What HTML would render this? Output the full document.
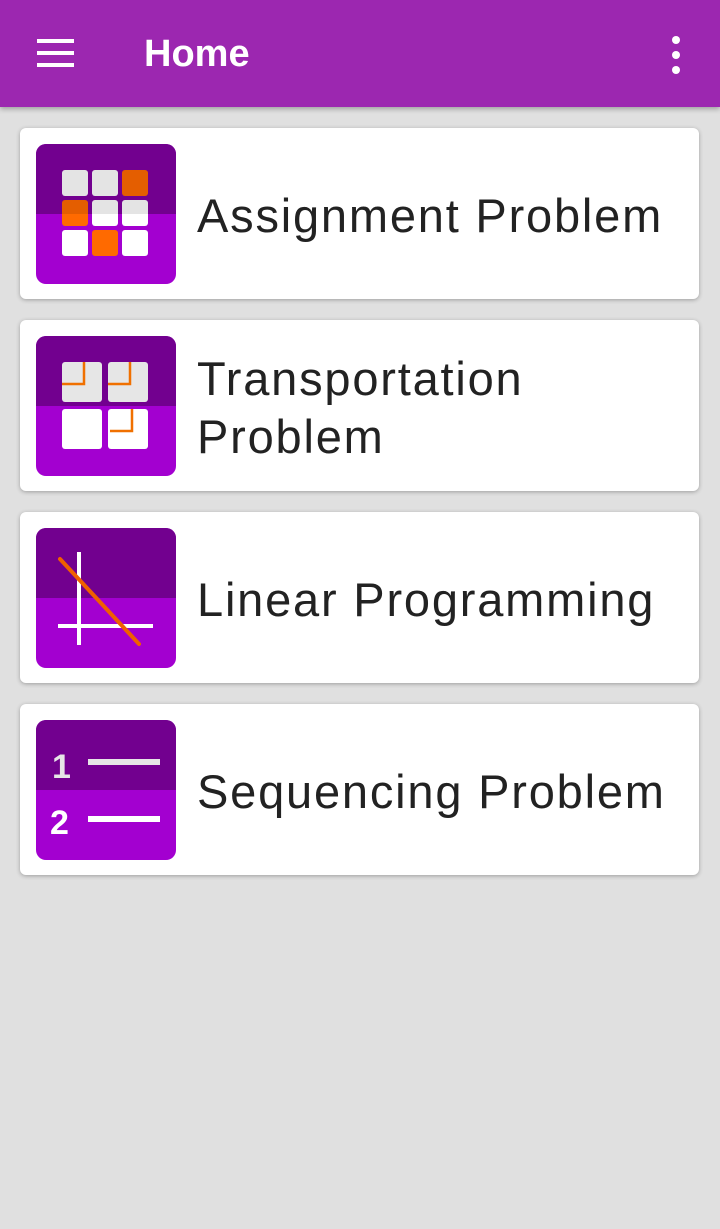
<!DOCTYPE html>
<html><head><meta charset="utf-8">
<style>
html,body{margin:0;padding:0}
body{width:720px;height:1229px;background:#e0e0e0;position:relative;overflow:hidden;font-family:"Liberation Sans",sans-serif}
.bar{position:absolute;left:0;top:0;width:720px;height:107px;background:#9c27b0;box-shadow:0 2px 5px rgba(0,0,0,0.3)}
.title{position:absolute;left:144px;top:30px;color:#fff;font-size:38px;font-weight:bold;line-height:48px}
.ham span{position:absolute;left:37px;width:37px;height:4px;background:#fff}
.dot{position:absolute;left:672px;width:8px;height:8px;border-radius:50%;background:#fff}
.card{position:absolute;left:20px;width:679px;height:171px;background:#fff;border-radius:6px;box-shadow:0 1px 4px rgba(0,0,0,0.3)}
.card svg{position:absolute;left:16px;top:16px}
.lbl{position:absolute;left:177px;color:#222;font-size:47px;line-height:58px;letter-spacing:1.8px}
</style></head><body>
<div class="bar">
 <div class="ham"><span style="top:39px"></span><span style="top:51px"></span><span style="top:63px"></span></div>
 <div class="title">Home</div>
 <div><div class="dot" style="top:36px"></div><div class="dot" style="top:51px"></div><div class="dot" style="top:66px"></div></div>
</div>

<div class="card" style="top:128px">
<svg width="140" height="140">
<defs><clipPath id="r1"><rect width="140" height="140" rx="10"/></clipPath><clipPath id="t1"><rect width="140" height="70"/></clipPath></defs>
<g clip-path="url(#r1)"><rect width="140" height="140" fill="#a300d0"/><rect width="140" height="70" fill="#72008f"/></g>
<g id="g1">
<rect x="26" y="26" width="26" height="26" rx="3" fill="#fff"/><rect x="56" y="26" width="26" height="26" rx="3" fill="#fff"/><rect x="86" y="26" width="26" height="26" rx="3" fill="#ff6a00"/>
<rect x="26" y="56" width="26" height="26" rx="3" fill="#ff6a00"/><rect x="56" y="56" width="26" height="26" rx="3" fill="#fff"/><rect x="86" y="56" width="26" height="26" rx="3" fill="#fff"/>
<rect x="26" y="86" width="26" height="26" rx="3" fill="#fff"/><rect x="56" y="86" width="26" height="26" rx="3" fill="#ff6a00"/><rect x="86" y="86" width="26" height="26" rx="3" fill="#fff"/>
</g>
<g clip-path="url(#t1)" opacity="0.1"><use href="#g1" style="filter:brightness(0)"/></g>
</svg>
<div class="lbl" style="top:59px">Assignment Problem</div>
</div>

<div class="card" style="top:320px">
<svg width="140" height="140">
<defs><clipPath id="r2"><rect width="140" height="140" rx="10"/></clipPath></defs>
<g clip-path="url(#r2)"><rect width="140" height="140" fill="#a300d0"/><rect width="140" height="70" fill="#72008f"/></g>
<rect x="26" y="26" width="40" height="40" rx="3" fill="#e6e6e6"/><rect x="72" y="26" width="40" height="40" rx="3" fill="#e6e6e6"/>
<rect x="26" y="73" width="40" height="40" rx="3" fill="#fff"/><rect x="72" y="73" width="40" height="40" rx="3" fill="#fff"/>
<g stroke="#f07000" stroke-width="2.5" fill="none">
<path d="M48 26V48H26"/><path d="M94 26V48H72"/><path d="M96 73V95H74"/></g>
</svg>
<div class="lbl" style="top:30px">Transportation<br>Problem</div>
</div>

<div class="card" style="top:512px">
<svg width="140" height="140">
<defs><clipPath id="r3"><rect width="140" height="140" rx="10"/></clipPath></defs>
<g clip-path="url(#r3)"><rect width="140" height="140" fill="#a300d0"/><rect width="140" height="70" fill="#72008f"/></g>
<line x1="43" y1="24" x2="43" y2="117" stroke="#fff" stroke-width="4"/>
<line x1="22" y1="98" x2="117" y2="98" stroke="#fff" stroke-width="4"/>
<line x1="24" y1="31" x2="103" y2="116" stroke="#f06000" stroke-width="4" stroke-linecap="round"/>
</svg>
<div class="lbl" style="top:59px">Linear Programming</div>
</div>

<div class="card" style="top:704px">
<svg width="140" height="140">
<defs><clipPath id="r4"><rect width="140" height="140" rx="10"/></clipPath></defs>
<g clip-path="url(#r4)"><rect width="140" height="140" fill="#a300d0"/><rect width="140" height="70" fill="#72008f"/></g>
<text x="16" y="58" font-family="Liberation Sans,sans-serif" font-size="34" font-weight="bold" fill="#e6e6e6">1</text>
<rect x="52" y="39" width="72" height="6" fill="#e6e6e6"/>
<text x="14" y="114" font-family="Liberation Sans,sans-serif" font-size="34" font-weight="bold" fill="#fff">2</text>
<rect x="52" y="96" width="72" height="6" fill="#fff"/>
</svg>
<div class="lbl" style="top:59px">Sequencing Problem</div>
</div>
</body></html>
